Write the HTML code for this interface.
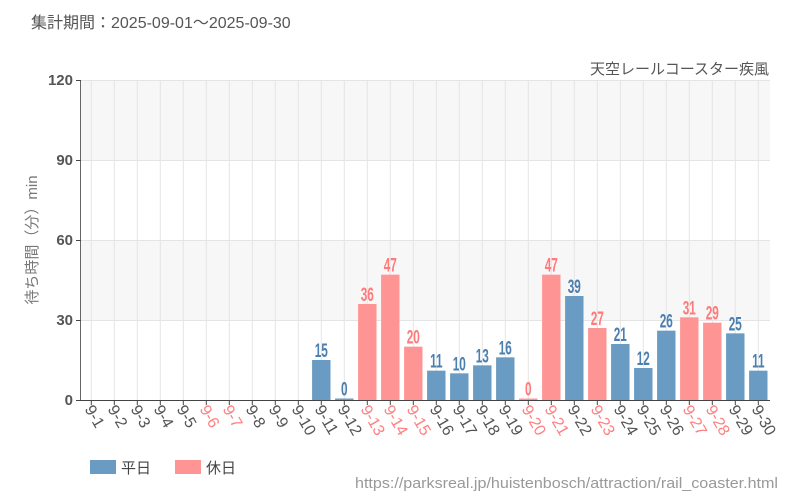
<!DOCTYPE html>
<html><head><meta charset="utf-8"><style>
body{margin:0;background:#fff;width:800px;height:500px;overflow:hidden}
svg{display:block;font-family:"Liberation Sans","Noto Sans CJK JP",sans-serif}
</style></head><body>
<svg id="s" width="800" height="500" xmlns="http://www.w3.org/2000/svg">
<text x="31" y="28" font-size="16" fill="#555">集計期間：2025-09-01～2025-09-30</text>
<rect x="81" y="80" width="689" height="80" fill="#f7f7f7"/>
<rect x="81" y="240" width="689" height="80" fill="#f7f7f7"/>
<g id="grid" stroke="#e4e4e4" stroke-width="1"></g>
<g stroke="#e4e4e4"><line x1="81" y1="80.5" x2="770" y2="80.5"/><line x1="81" y1="160.5" x2="770" y2="160.5"/><line x1="81" y1="240.5" x2="770" y2="240.5"/><line x1="81" y1="320.5" x2="770" y2="320.5"/></g>
<g id="bars"></g>
<line x1="80.5" y1="80" x2="80.5" y2="400" stroke="#666"/>
<line x1="80" y1="400.5" x2="770" y2="400.5" stroke="#444"/>
<g font-size="15" font-weight="bold" fill="#555" text-anchor="end">
<text x="73" y="85">120</text><text x="73" y="165">90</text><text x="73" y="245">60</text><text x="73" y="325">30</text><text x="73" y="405">0</text>
</g>
<g stroke="#444"><line x1="76" y1="80.5" x2="81" y2="80.5"/><line x1="76" y1="160.5" x2="81" y2="160.5"/><line x1="76" y1="240.5" x2="81" y2="240.5"/><line x1="76" y1="320.5" x2="81" y2="320.5"/><line x1="76" y1="400.5" x2="81" y2="400.5"/></g>
<text transform="translate(37,240) rotate(-90)" text-anchor="middle" font-size="15" fill="#777">待ち時間（分）min</text>
<text x="769" y="74" text-anchor="end" font-size="15" fill="#555">天空レールコースター疾風</text>
<rect x="90" y="460" width="26" height="14" fill="#6a9bc3"/><text x="121" y="473" font-size="15" fill="#444">平日</text>
<rect x="175" y="460" width="26" height="14" fill="#ff9494"/><text x="206" y="473" font-size="15" fill="#444">休日</text>
<text x="778" y="488" text-anchor="end" font-size="15" fill="#999" textLength="423" lengthAdjust="spacingAndGlyphs">https://parksreal.jp/huistenbosch/attraction/rail_coaster.html</text>
</svg>
<script>
var v={11:15,12:0,13:36,14:47,15:20,16:11,17:10,18:13,19:16,20:0,21:47,22:39,23:27,24:21,25:12,26:26,27:31,28:29,29:25,30:11};
var hol=[6,7,13,14,15,20,21,23,27,28];
var ns="http://www.w3.org/2000/svg",g=document.getElementById('grid'),b=document.getElementById('bars');
function el(t,a,p,txt){var e=document.createElementNS(ns,t);for(var k in a)e.setAttribute(k,a[k]);if(txt!=null)e.textContent=txt;p.appendChild(e);return e;}
for(var d=1;d<=30;d++){
 var c=91.3+23*(d-1),h=hol.indexOf(d)>=0;
 el('line',{x1:c,y1:80,x2:c,y2:400},g);
 el('line',{x1:c,y1:400,x2:c,y2:405,stroke:'#444'},b);
 var col=h?'#ff7a7a':'#4a7fb0';
 if(v[d]!=null){
  var val=v[d],y=400-val*320/120,hh=Math.max(400-y,1.5);
  el('rect',{x:c-9.2,y:400-hh,width:18.4,height:hh,fill:h?'#ff9494':'#6a9bc3'},b);
  el('text',{x:c,y:400-hh-3,'text-anchor':'middle','font-size':'19','font-weight':'bold',fill:col,transform:'translate('+c+',0) scale(0.62,1) translate('+(-c)+',0)'},b,String(val));
 }
 el('text',{x:0,y:0,'font-size':'16',fill:h?'#ff8080':'#555',transform:'translate('+(c-7)+',409) rotate(60)'},b,'9-'+d);
}
</script>
</body></html>
